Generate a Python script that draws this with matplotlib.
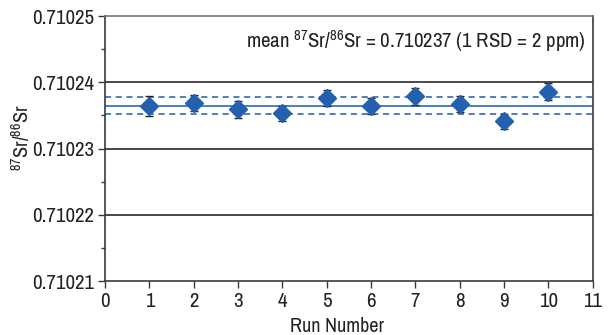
import matplotlib
matplotlib.use("Agg")
import matplotlib.pyplot as plt
from matplotlib import font_manager
from matplotlib.ticker import MultipleLocator, FormatStrFormatter

# pick a narrow sans face if one is installed
names = sorted({f.name for f in font_manager.fontManager.ttflist})
narrow = [n for n in names if 'Narrow' in n or 'Condensed' in n]
cond_stretch = [f.name for f in font_manager.fontManager.ttflist
                if f.name in ('DejaVu Sans', 'Roboto', 'Open Sans', 'Noto Sans', 'Liberation Sans')
                and f.stretch in ('condensed', 'semi-condensed')]
if narrow:
    face, stretch = narrow[0], 'normal'
elif cond_stretch:
    face, stretch = cond_stretch[0], 'condensed'
else:
    face, stretch = 'Roboto', 'normal'

plt.rcParams['font.family'] = [face, 'DejaVu Sans']
plt.rcParams['font.stretch'] = stretch
plt.rcParams['mathtext.fontset'] = 'custom'
plt.rcParams['mathtext.rm'] = face
plt.rcParams['mathtext.it'] = face

# Sr isotope ratio for each run
runs = [1, 2, 3, 4, 5, 6, 7, 8, 9, 10]
ratio = [0.7102364, 0.7102369, 0.7102359, 0.7102353, 0.7102376,
         0.7102364, 0.7102379, 0.7102367, 0.7102341, 0.7102386]
err = [1.5e-6, 1.25e-6, 1.25e-6, 1.1e-6, 1.2e-6,
       1.2e-6, 1.25e-6, 1.25e-6, 1.15e-6, 1.25e-6]
mean_ratio = 0.7102365
band = 1.25e-6

fig = plt.figure(figsize=(6.12, 3.35), dpi=100)
ax = fig.add_axes([0.1716, 0.161, 0.797, 0.791])

for y in [0.71022, 0.71023, 0.71024]:
    ax.axhline(y, color='#3a3a3a', lw=1.3, zorder=1)

ax.axhline(mean_ratio, color='#4a80c4', lw=1.4, zorder=2)
ax.axhline(mean_ratio + band, color='#1f5ea8', lw=1.1, ls=(0, (4, 3)), zorder=2)
ax.axhline(mean_ratio - band, color='#1f5ea8', lw=1.1, ls=(0, (4, 3)), zorder=2)

ax.errorbar(runs, ratio, yerr=err, fmt='none', ecolor='#222222', elinewidth=1,
            capsize=3, capthick=1, zorder=3)
ax.plot(runs, ratio, 'D', color='#2460b0', markersize=9, mec='#2460b0', zorder=4)

ax.set_xlim(0, 11)
ax.set_ylim(0.71021, 0.71025)
ax.xaxis.set_major_locator(MultipleLocator(1))
ax.yaxis.set_major_locator(MultipleLocator(0.00001))
ax.yaxis.set_minor_locator(MultipleLocator(0.000005))
ax.yaxis.set_major_formatter(FormatStrFormatter('%.5f'))

for s in ax.spines.values():
    s.set_color('#3a3a3a')
    s.set_linewidth(1.2)
ax.spines['top'].set_color('#777777')

ax.tick_params(axis='both', which='major', direction='out', length=5, width=1,
               color='#3a3a3a', labelsize=15, labelcolor='#222222', pad=3)
ax.tick_params(axis='y', which='minor', direction='out', length=3, width=1,
               color='#3a3a3a')

ax.set_xlabel('Run Number', fontsize=14.5, color='#222222', labelpad=1)
ax.set_ylabel(r'$^{87}$Sr/$^{86}$Sr', fontsize=14.5, color='#222222', labelpad=1)
ax.yaxis.set_label_coords(-0.148, 0.54)
ax.xaxis.set_label_coords(0.476, -0.135)

ax.text(0.985, 0.905, r'mean $^{87}$Sr/$^{86}$Sr = 0.710237 (1 RSD = 2 ppm)',
        transform=ax.transAxes, ha='right', va='center', fontsize=15,
        color='#222222')

fig.savefig('out.png', dpi=100)
